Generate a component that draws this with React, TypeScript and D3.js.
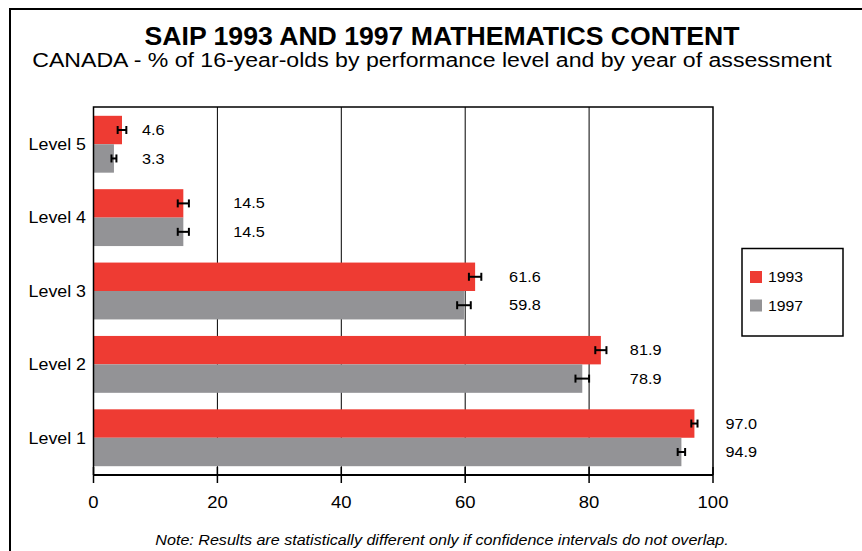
import React from "react";
import * as d3 from "d3";

const levels = ["Level 5", "Level 4", "Level 3", "Level 2", "Level 1"];
const years = ["1993", "1997"];
const values1993 = [4.6, 14.5, 61.6, 81.9, 97.0];
const values1997 = [3.3, 14.5, 59.8, 78.9, 94.9];
const ci1993 = [0.7, 0.9, 1.0, 0.9, 0.5];
const ci1997 = [0.4, 0.9, 1.1, 1.1, 0.6];
const xTicks = [0, 20, 40, 60, 80, 100];

const W = 862;
const H = 551;
const FONT = "'Liberation Sans', Arial, Helvetica, sans-serif";
const RED = "#EE3B33";
const GREY = "#939396";

// per-level label offsets (px right of the larger bar end), as placed in the original
const labelOffsets = [20, 50, 34, 29, 31];

type TProps = {
  x: number;
  y: number;
  size: number;
  sx?: number;
  anchor?: "start" | "middle" | "end";
  weight?: string;
  italic?: boolean;
  middleY?: boolean;
  children: React.ReactNode;
};

function Txt({ x, y, size, sx = 1.1, anchor = "start", weight, italic, middleY, children }: TProps) {
  return (
    <text
      transform={`translate(${x},${y}) scale(${sx},1)`}
      textAnchor={anchor}
      fontSize={size}
      fontWeight={weight}
      fontStyle={italic ? "italic" : undefined}
      dy={middleY ? "0.35em" : undefined}
    >
      {children}
    </text>
  );
}

export default function App() {
  const margin = { left: 93.5, right: 713, top: 107, bottom: 475 };
  const x = d3.scaleLinear().domain([0, 100]).range([margin.left, margin.right]);
  const y = d3
    .scaleBand<string>()
    .domain(levels)
    .range([margin.top, margin.bottom])
    .paddingInner(0.225)
    .paddingOuter(0.12);
  const sub = d3.scaleBand<string>().domain(years).range([0, y.bandwidth()]);
  const series = [
    { year: "1993", vals: values1993, ci: ci1993, color: RED },
    { year: "1997", vals: values1997, ci: ci1997, color: GREY },
  ];
  const bh = sub.bandwidth();

  return (
    <div style={{ position: "absolute", left: 0, top: 0 }}>
      <svg width={W} height={H} style={{ display: "block", background: "#fff" }} fontFamily={FONT}>
        <rect x={0} y={0} width={W} height={H} fill="#fff" />
        {/* outer frame */}
        <path d={`M10,${H + 5} L10,9 L${W + 5},9`} fill="none" stroke="#000" strokeWidth={2} />

        <Txt x={442} y={45} size={25} sx={1.065} anchor="middle" weight="bold">
          SAIP 1993 AND 1997 MATHEMATICS CONTENT
        </Txt>
        <Txt x={432} y={67} size={21} sx={1.1} anchor="middle">
          CANADA - % of 16-year-olds by performance level and by year of assessment
        </Txt>

        {/* gridlines */}
        {xTicks.slice(1, -1).map((t) => (
          <line key={t} x1={x(t)} x2={x(t)} y1={margin.top} y2={margin.bottom} stroke="#000" strokeWidth={1} />
        ))}

        {/* bars */}
        {levels.map((lv, i) => (
          <g key={lv}>
            {series.map((s) => {
              const yy = (y(lv) as number) + (sub(s.year) as number);
              return (
                <rect key={s.year} x={x(0)} y={yy} width={x(s.vals[i]) - x(0)} height={bh} fill={s.color} />
              );
            })}
          </g>
        ))}

        {/* error bars */}
        {levels.map((lv, i) => (
          <g key={lv + "e"}>
            {series.map((s) => {
              const cy = (y(lv) as number) + (sub(s.year) as number) + bh / 2;
              const x1 = x(s.vals[i] - s.ci[i]);
              const x2 = x(s.vals[i] + s.ci[i]);
              return (
                <g key={s.year} stroke="#000">
                  <line x1={x1} x2={x2} y1={cy} y2={cy} strokeWidth={2} />
                  <line x1={x1} x2={x1} y1={cy - 4} y2={cy + 4} strokeWidth={2} />
                  <line x1={x2} x2={x2} y1={cy - 4} y2={cy + 4} strokeWidth={2} />
                </g>
              );
            })}
          </g>
        ))}

        {/* value labels */}
        {levels.map((lv, i) => {
          const lx = x(Math.max(values1993[i], values1997[i])) + labelOffsets[i];
          return (
            <g key={lv + "l"}>
              {series.map((s) => {
                const cy = (y(lv) as number) + (sub(s.year) as number) + bh / 2;
                return (
                  <Txt key={s.year} x={lx} y={cy} size={14.5} sx={1.12} middleY>
                    {s.vals[i].toFixed(1)}
                  </Txt>
                );
              })}
            </g>
          );
        })}

        {/* plot frame: left, top, right */}
        <path
          d={`M${margin.left},${margin.bottom} L${margin.left},${margin.top} L${margin.right},${margin.top} L${margin.right},${margin.bottom}`}
          fill="none"
          stroke="#000"
          strokeWidth={1.5}
        />
        {/* x axis */}
        <line x1={margin.left} x2={margin.right} y1={margin.bottom} y2={margin.bottom} stroke="#000" strokeWidth={2} />
        {xTicks.map((t) => (
          <g key={t}>
            <line x1={x(t)} x2={x(t)} y1={margin.bottom - 8} y2={margin.bottom + 8} stroke="#000" strokeWidth={1.5} />
            <Txt x={x(t)} y={502} size={16.5} sx={1.12} anchor="middle" middleY>
              {t}
            </Txt>
          </g>
        ))}

        {/* category labels */}
        {levels.map((lv) => (
          <Txt key={lv} x={86} y={(y(lv) as number) + y.bandwidth() / 2} size={16.5} sx={1.08} anchor="end" middleY>
            {lv}
          </Txt>
        ))}

        {/* legend */}
        <rect x={742} y={248.5} width={101} height={87.5} fill="#fff" stroke="#000" strokeWidth={1.5} />
        {series.map((s, i) => (
          <g key={s.year}>
            <rect x={750} y={271 + i * 28.5} width={12} height={12} fill={s.color} />
            <Txt x={768} y={277 + i * 28.5} size={15} sx={1.05} middleY>
              {s.year}
            </Txt>
          </g>
        ))}

        <Txt x={442} y={540} size={14} sx={1.15} anchor="middle" italic middleY>
          Note: Results are statistically different only if confidence intervals do not overlap.
        </Txt>
      </svg>
    </div>
  );
}
